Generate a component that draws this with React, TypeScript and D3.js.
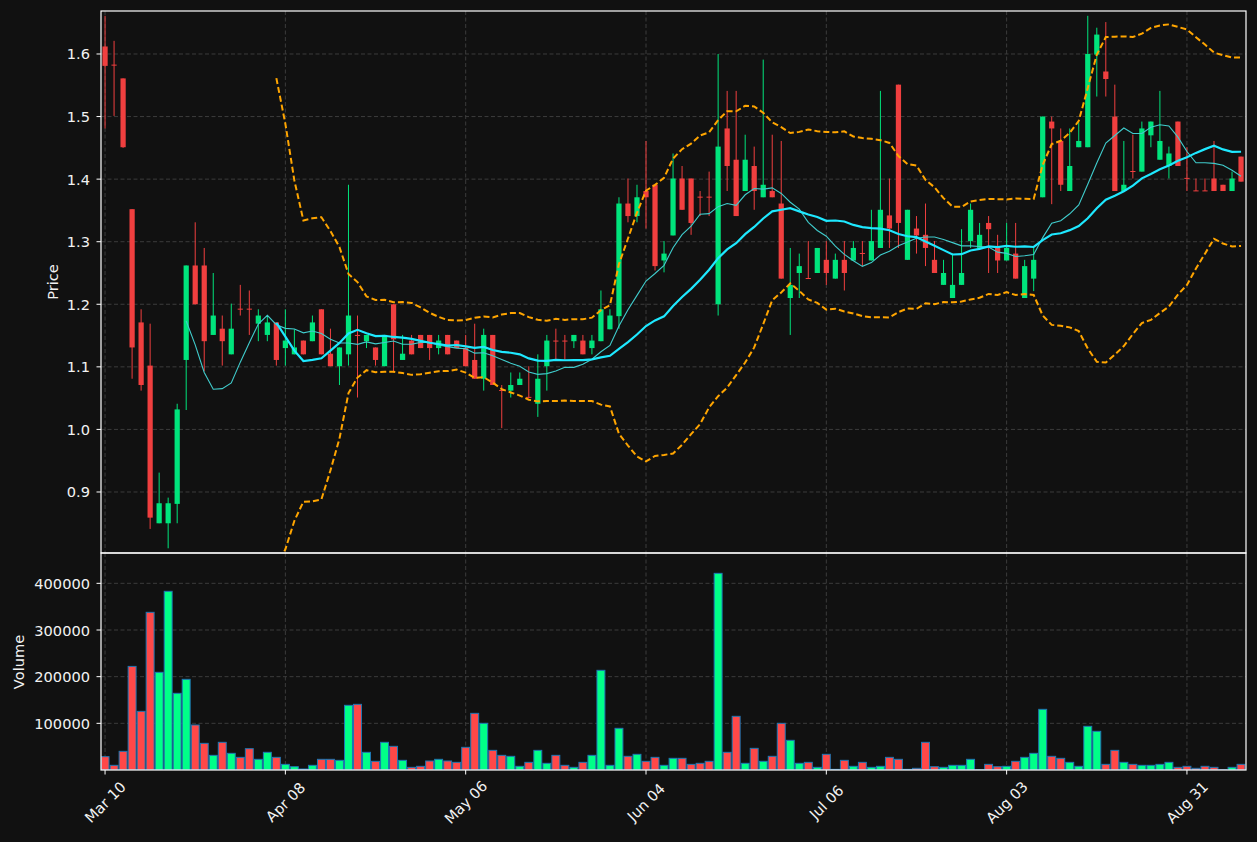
import React from 'react';
import * as d3 from 'd3';

const opens = [1.612,1.583,1.561,1.352,1.171,1.102,0.850,0.850,0.881,1.111,
  1.262,1.262,1.151,1.161,1.120,1.193,1.193,1.169,1.151,1.171,
  1.130,1.120,1.142,1.141,1.192,1.121,1.101,1.120,1.151,1.141,
  1.131,1.101,1.200,1.111,1.142,1.151,1.151,1.130,1.151,1.142,
  1.130,1.111,1.081,1.151,1.063,1.062,1.071,1.052,1.041,1.101,
  1.142,1.142,1.141,1.142,1.130,1.141,1.160,1.181,1.361,1.341,
  1.381,1.391,1.270,1.310,1.401,1.401,1.372,1.372,1.200,1.481,
  1.431,1.381,1.421,1.371,1.381,1.361,1.210,1.250,1.242,1.250,
  1.271,1.241,1.271,1.270,1.282,1.270,1.290,1.342,1.551,1.271,
  1.321,1.311,1.271,1.231,1.210,1.231,1.301,1.290,1.330,1.290,
  1.270,1.281,1.210,1.241,1.371,1.492,1.461,1.381,1.451,1.451,
  1.599,1.572,1.500,1.381,1.413,1.412,1.470,1.431,1.421,1.492,
  1.402,1.382,1.382,1.401,1.391,1.381,1.436];
const highs = [1.661,1.621,1.561,1.352,1.192,1.169,0.931,0.891,1.041,1.262,
  1.331,1.290,1.250,1.182,1.201,1.231,1.222,1.192,1.182,1.171,
  1.192,1.160,1.142,1.182,1.192,1.161,1.131,1.391,1.182,1.151,
  1.131,1.151,1.200,1.151,1.151,1.151,1.151,1.151,1.151,1.142,
  1.151,1.169,1.161,1.151,1.071,1.091,1.091,1.101,1.120,1.151,
  1.161,1.151,1.151,1.151,1.151,1.222,1.192,1.371,1.401,1.391,
  1.461,1.391,1.301,1.441,1.421,1.401,1.381,1.412,1.600,1.541,
  1.541,1.471,1.452,1.591,1.471,1.461,1.290,1.281,1.301,1.290,
  1.301,1.281,1.301,1.301,1.301,1.351,1.541,1.401,1.551,1.351,
  1.341,1.361,1.301,1.271,1.281,1.320,1.361,1.330,1.341,1.311,
  1.330,1.330,1.271,1.290,1.500,1.500,1.481,1.481,1.491,1.661,
  1.642,1.651,1.551,1.461,1.471,1.492,1.492,1.541,1.452,1.492,
  1.451,1.401,1.401,1.461,1.391,1.412,1.436];
const lows = [1.481,1.501,1.450,1.081,1.062,0.841,0.850,0.810,0.850,1.031,
  1.200,1.093,1.151,1.102,1.120,1.182,1.151,1.141,1.141,1.102,
  1.102,1.120,1.120,1.141,1.120,1.101,1.071,1.102,1.051,1.130,
  1.102,1.101,1.091,1.111,1.120,1.130,1.111,1.120,1.120,1.130,
  1.101,1.081,1.062,1.071,1.002,1.051,1.071,1.051,1.020,1.062,
  1.111,1.111,1.130,1.120,1.120,1.141,1.160,1.161,1.331,1.331,
  1.321,1.254,1.251,1.310,1.351,1.311,1.341,1.341,1.182,1.381,
  1.341,1.381,1.351,1.371,1.371,1.241,1.151,1.210,1.241,1.250,
  1.231,1.241,1.222,1.270,1.261,1.270,1.290,1.290,1.290,1.271,
  1.281,1.261,1.250,1.231,1.210,1.231,1.290,1.290,1.250,1.250,
  1.270,1.241,1.210,1.221,1.371,1.360,1.381,1.381,1.451,1.451,
  1.532,1.532,1.381,1.381,1.401,1.412,1.451,1.431,1.401,1.421,
  1.381,1.381,1.381,1.381,1.381,1.381,1.396];
const closes = [1.581,1.582,1.451,1.131,1.071,0.859,0.882,0.882,1.032,1.262,
  1.200,1.141,1.182,1.141,1.161,1.192,1.192,1.182,1.171,1.111,
  1.142,1.131,1.120,1.171,1.120,1.101,1.131,1.182,1.150,1.151,
  1.111,1.151,1.144,1.121,1.120,1.130,1.130,1.142,1.120,1.130,
  1.101,1.081,1.151,1.071,1.062,1.071,1.081,1.051,1.081,1.142,
  1.141,1.141,1.151,1.120,1.142,1.192,1.182,1.361,1.341,1.371,
  1.371,1.261,1.281,1.401,1.351,1.330,1.371,1.371,1.452,1.421,
  1.341,1.431,1.381,1.391,1.371,1.241,1.231,1.261,1.241,1.290,
  1.250,1.271,1.250,1.290,1.281,1.301,1.351,1.321,1.330,1.351,
  1.310,1.290,1.250,1.250,1.231,1.250,1.351,1.311,1.320,1.270,
  1.290,1.241,1.261,1.271,1.500,1.481,1.391,1.421,1.461,1.600,
  1.631,1.560,1.381,1.391,1.412,1.481,1.492,1.461,1.441,1.421,
  1.401,1.381,1.381,1.381,1.381,1.401,1.396];
const volumes = [28600,10000,40000,222000,125700,337900,209300,382900,164300,194300,
  96400,57100,31400,59300,35700,27100,45700,22900,37900,27100,
  12100,7100,2100,10000,22900,22900,20700,138600,140700,37900,
  18600,59300,50700,20700,5700,7900,19300,22900,19300,16400,
  48600,121400,100000,42100,31400,29300,7900,16400,42100,14300,
  31400,10000,5700,16400,31400,213600,10000,89300,29300,33600,
  18600,27100,10000,25000,25000,12100,14300,18600,421400,37900,
  115000,14300,46400,18600,29300,100000,63600,14300,16400,5700,
  33600,1400,20700,7900,16400,5700,7900,27100,22900,1400,
  3600,59300,7100,5700,10000,10000,22900,500,12100,7100,
  7900,18600,27100,35700,130000,29300,25000,16400,7900,93600,
  82900,12100,42100,16400,12100,10000,10000,12100,16400,5700,
  7900,3600,7900,5700,500,5700,12100];

const tickLabels = ['Mar 10', 'Apr 08', 'May 06', 'Jun 04', 'Jul 06', 'Aug 03', 'Aug 31'];
const tickBars = [0, 20, 40, 60, 80, 100, 120];
const priceTicks = [0.9, 1.0, 1.1, 1.2, 1.3, 1.4, 1.5, 1.6];
const volumeTicks = [100000, 200000, 300000, 400000];

const W = 1257, H = 842;
const L = 101, R = 1246, PT = 11, PB = 553, VB = 770;
const FONT = "'DejaVu Sans', sans-serif";
const FS = 14.6;

function sma(arr: number[], n: number) {
  return arr.map((_, i) => (i < n - 1 ? null : (d3.mean(arr.slice(i - n + 1, i + 1)) as number)));
}
function boll(arr: number[], n: number, k: number, sign: number) {
  return arr.map((_, i) => {
    if (i < n - 1) return null;
    const s = arr.slice(i - n + 1, i + 1);
    return (d3.mean(s) as number) + sign * k * (d3.deviation(s) as number);
  });
}

export default function App() {
  const n = closes.length;
  const x = d3.scaleLinear().domain([-0.45, n - 0.45]).range([L, R]);
  const yP = d3.scaleLinear().domain([0.8025, 1.6687]).range([PB, PT]);
  const yV = d3.scaleLinear().domain([0, 465000]).range([VB, PB]);
  const step = x(1) - x(0);
  const bodyW = step * 0.58;
  const volW = step * 0.88;

  const ma10 = sma(closes, 10);
  const ma20 = sma(closes, 20);
  const upper = boll(closes, 20, 2, 1);
  const lower = boll(closes, 20, 2, -1);

  const line = d3.line<number | null>()
    .defined((d) => d !== null)
    .x((_, i) => x(i))
    .y((d) => yP(d as number));

  const upCandle = '#00e47c';
  const dnCandle = '#f03f3f';
  const upVol = '#00ff88';
  const dnVol = '#ff4848';
  const gridC = '#3c3c3c';
  const textC = '#f2f2f2';

  return (
    <svg width={W} height={H} style={{ position: 'fixed', left: 0, top: 0, background: '#111111' }}>
      <rect x={0} y={0} width={W} height={H} fill="#111111" />
      <defs>
        <clipPath id="pclip"><rect x={L} y={PT} width={R - L} height={PB - PT} /></clipPath>
        <clipPath id="vclip"><rect x={L} y={PB} width={R - L} height={VB - PB} /></clipPath>
      </defs>
      {priceTicks.map((t) => (
        <line key={'pg' + t} x1={L} x2={R} y1={yP(t)} y2={yP(t)} stroke={gridC} strokeWidth={1} strokeDasharray="4,2.5" />
      ))}
      {volumeTicks.map((t) => (
        <line key={'vg' + t} x1={L} x2={R} y1={yV(t)} y2={yV(t)} stroke={gridC} strokeWidth={1} strokeDasharray="4,2.5" />
      ))}
      {tickBars.map((b) => (
        <g key={'xg' + b}>
          <line x1={x(b)} x2={x(b)} y1={PT} y2={PB} stroke={gridC} strokeWidth={1} strokeDasharray="4,2.5" />
          <line x1={x(b)} x2={x(b)} y1={PB} y2={VB} stroke={gridC} strokeWidth={1} strokeDasharray="4,2.5" />
        </g>
      ))}
      <g clipPath="url(#pclip)">
        {closes.map((c, i) => {
          const o = opens[i];
          const up = c >= o;
          const col = up ? upCandle : dnCandle;
          const yt = yP(Math.max(o, c));
          const yb = yP(Math.min(o, c));
          return (
            <g key={'c' + i}>
              <line x1={x(i)} x2={x(i)} y1={yP(highs[i])} y2={yP(lows[i])} stroke={col} strokeWidth={1} />
              <rect x={x(i) - bodyW / 2} y={yt} width={bodyW} height={Math.max(1, yb - yt)} fill={col} />
            </g>
          );
        })}
        <path d={line(upper) || ''} fill="none" stroke="#ffa500" strokeWidth={2} strokeDasharray="6,3" />
        <path d={line(lower) || ''} fill="none" stroke="#ffa500" strokeWidth={2} strokeDasharray="6,3" />
        <path d={line(ma10) || ''} fill="none" stroke="#40cccc" strokeWidth={1.1} />
        <path d={line(ma20) || ''} fill="none" stroke="#1ee8ff" strokeWidth={2.2} />
      </g>
      <g clipPath="url(#vclip)">
        {volumes.map((v, i) => {
          const up = closes[i] >= opens[i];
          return (
            <rect key={'v' + i} x={x(i) - volW / 2} y={yV(v)} width={volW} height={Math.max(0, VB - yV(v))}
              fill={up ? upVol : dnVol} stroke="#1f77b4" strokeWidth={1} />
          );
        })}
      </g>
      <rect x={L} y={PT} width={R - L} height={PB - PT} fill="none" stroke="#ffffff" strokeWidth={1.2} />
      <rect x={L} y={PB} width={R - L} height={VB - PB} fill="none" stroke="#ffffff" strokeWidth={1.2} />
      {priceTicks.map((t) => (
        <g key={'pt' + t}>
          <line x1={L - 4.5} x2={L} y1={yP(t)} y2={yP(t)} stroke="#ffffff" strokeWidth={1} />
          <text x={L - 11} y={yP(t)} textAnchor="end" dominantBaseline="central" fill={textC} fontFamily={FONT} fontSize={FS}>
            {t.toFixed(1)}
          </text>
        </g>
      ))}
      {volumeTicks.map((t) => (
        <g key={'vt' + t}>
          <line x1={L - 4.5} x2={L} y1={yV(t)} y2={yV(t)} stroke="#ffffff" strokeWidth={1} />
          <text x={L - 11} y={yV(t)} textAnchor="end" dominantBaseline="central" fill={textC} fontFamily={FONT} fontSize={FS}>
            {String(t)}
          </text>
        </g>
      ))}
      {tickBars.map((b, j) => {
        const tx = x(b);
        const cy = 802;
        return (
          <g key={'xt' + b}>
            <line x1={tx} x2={tx} y1={VB} y2={VB + 4.5} stroke="#ffffff" strokeWidth={1} />
            <text x={tx} y={cy} textAnchor="middle" dominantBaseline="central" fill={textC} fontFamily={FONT} fontSize={FS}
              transform={`rotate(-45, ${tx}, ${cy})`}>
              {tickLabels[j]}
            </text>
          </g>
        );
      })}
      <text x={52} y={(PT + PB) / 2} textAnchor="middle" dominantBaseline="central" fill={textC} fontFamily={FONT} fontSize={FS}
        transform={`rotate(-90, 52, ${(PT + PB) / 2})`}>Price</text>
      <text x={18} y={662} textAnchor="middle" dominantBaseline="central" fill={textC} fontFamily={FONT} fontSize={FS}
        transform={`rotate(-90, 18, 662)`}>Volume</text>
    </svg>
  );
}
